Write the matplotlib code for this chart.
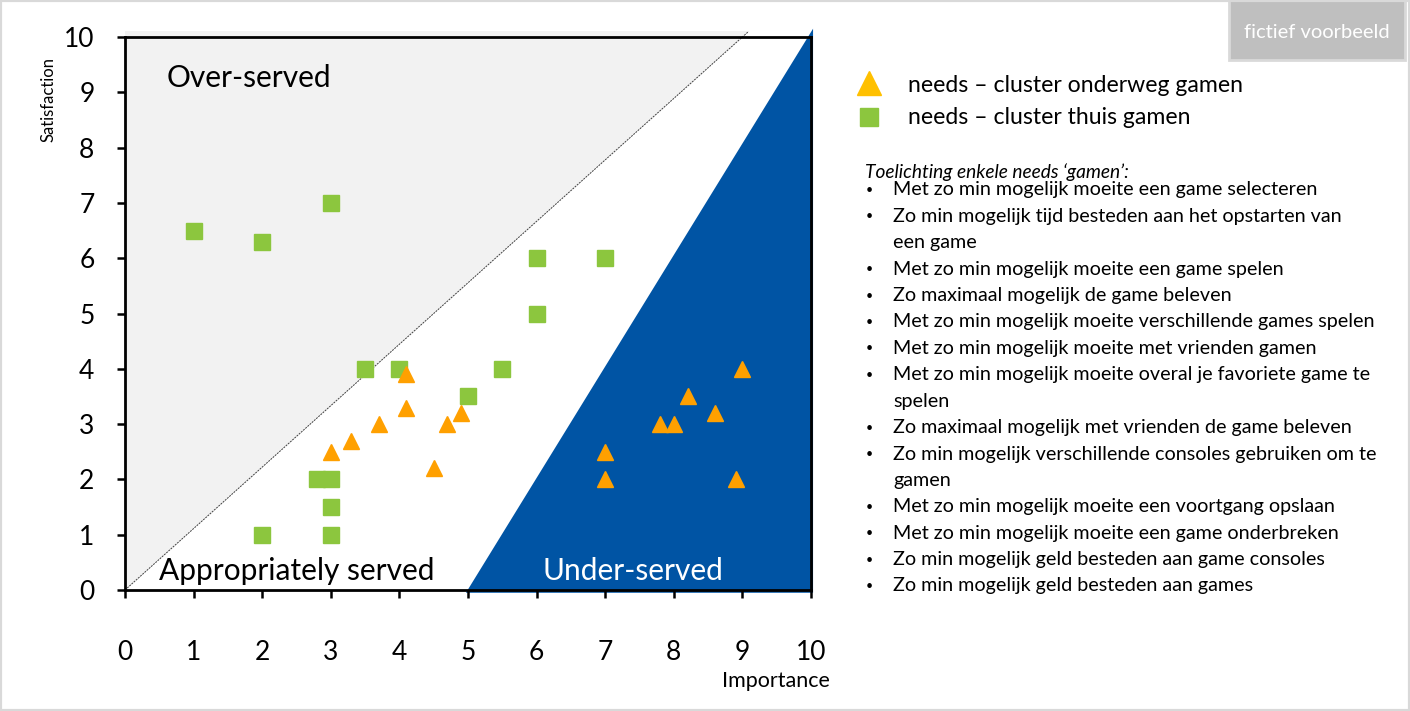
import matplotlib
matplotlib.use("Agg")
import matplotlib.pyplot as plt
from matplotlib.patches import Polygon, Rectangle
from matplotlib.lines import Line2D

plt.rcParams['font.family'] = ['Lato', 'DejaVu Sans']

# cluster "thuis gamen" (green squares)
thuis_x = [1, 2, 3, 6, 7, 6, 3.5, 4, 5.5, 5, 2.8, 3, 3, 2, 3]
thuis_y = [6.5, 6.3, 7, 6, 6, 5, 4, 4, 4, 3.5, 2, 2, 1.5, 1, 1]

# cluster "onderweg gamen" (orange triangles)
onderweg_x = [4.1, 4.1, 3.0, 3.3, 3.7, 4.5, 4.7, 4.9, 7, 7, 7.8, 8.0, 8.2, 8.6, 9.0, 8.9]
onderweg_y = [3.9, 3.3, 2.5, 2.7, 3.0, 2.2, 3.0, 3.2, 2.5, 2, 3.0, 3.0, 3.5, 3.2, 4.0, 2]

ticks = list(range(0, 11))

needs = [
    "Met zo min mogelijk moeite een game selecteren",
    "Zo min mogelijk tijd besteden aan het opstarten van\neen game",
    "Met zo min mogelijk moeite een game spelen",
    "Zo maximaal mogelijk de game beleven",
    "Met zo min mogelijk moeite verschillende games spelen",
    "Met zo min mogelijk moeite met vrienden gamen",
    "Met zo min mogelijk moeite overal je favoriete game te\nspelen",
    "Zo maximaal mogelijk met vrienden de game beleven",
    "Zo min mogelijk verschillende consoles gebruiken om te\ngamen",
    "Met zo min mogelijk moeite een voortgang opslaan",
    "Met zo min mogelijk moeite een game onderbreken",
    "Zo min mogelijk geld besteden aan game consoles",
    "Zo min mogelijk geld besteden aan games",
]

W, H = 1410, 711
fig = plt.figure(figsize=(W / 100, H / 100), dpi=100)
fig.patch.set_facecolor('white')


def fx(px):
    return px / W


def fy(py):
    return 1 - py / H


ax = fig.add_axes([fx(125), fy(590), fx(811) - fx(125), fy(37) - fy(590)])
ax.set_xlim(0, 10)
ax.set_ylim(0, 10)

# zones
ax.add_patch(Polygon([(0, 0), (0, 10.1), (9.09, 10.1)], closed=True,
                     facecolor='#F2F2F2', edgecolor='none', clip_on=False, zorder=0))
ax.plot([0, 9.09], [0, 10.1], color='#404040', lw=0.7, ls=(0, (2, 1)), clip_on=False, zorder=1)
ax.add_patch(Polygon([(4.97, -0.05), (10.03, 10.15), (10.03, -0.05)], closed=True,
                     facecolor='#0054A4', edgecolor='none', clip_on=False, zorder=1))

ax.text(0.6, 9.25, "Over-served", fontsize=21.5, color='black', va='center', ha='left')
ax.text(0.5, 0.35, "Appropriately served", fontsize=21.5, color='black', va='center', ha='left')
ax.text(7.4, 0.35, "Under-served", fontsize=21.5, color='white', va='center', ha='center')

ax.plot(thuis_x, thuis_y, ls='none', marker='s', ms=11.5, color='#8CC63E', zorder=3)
ax.plot(onderweg_x, onderweg_y, ls='none', marker='^', ms=12, color='#FFA000', zorder=4)

for s in ax.spines.values():
    s.set_linewidth(2)
    s.set_color('black')
    s.set_zorder(5)
ax.set_xticks(ticks)
ax.set_yticks(ticks)
ax.tick_params(axis='x', length=6, width=1.8, pad=30, labelsize=19)
ax.tick_params(axis='y', length=6, width=1.8, pad=16, labelsize=19)
ax.set_facecolor('white')

fig.text(fx(48), fy(100), "Satisfaction", rotation=90, fontsize=12, ha='center', va='center')
fig.text(fx(830), fy(681), "Importance", fontsize=15.5, ha='right', va='center')

# legend
fig.add_artist(Line2D([fx(869)], [fy(83)], marker='^', ms=17, color='#FFC000', ls='none'))
fig.add_artist(Line2D([fx(869)], [fy(117)], marker='s', ms=13, color='#8CC63E', ls='none'))
fig.text(fx(908), fy(85), "needs – cluster onderweg gamen", fontsize=16.6, va='center')
fig.text(fx(908), fy(118), "needs – cluster thuis gamen", fontsize=16.6, va='center')

fig.text(fx(865), fy(172), "Toelichting enkele needs ‘gamen’:", fontsize=13.8, style='italic', va='center')
line_h = 26.4
row = 0
for n in needs:
    parts = n.split("\n")
    y = 190 + row * line_h
    fig.text(fx(866), fy(y), "•", fontsize=9, va='center')
    for i, p in enumerate(parts):
        fig.text(fx(893), fy(y + i * line_h), p, fontsize=14.2, va='center')
    row += len(parts)

# badge and frame
fig.add_artist(Rectangle((fx(1229), fy(60)), fx(1405) - fx(1229), fy(0) - fy(60),
                         transform=fig.transFigure, facecolor='#BFBFBF',
                         edgecolor='#D9D9D9', lw=2))
fig.text(fx(1317), fy(32), "fictief voorbeeld", color='white', fontsize=14.5, ha='center', va='center')
fig.add_artist(Rectangle((0, 0), 1, 1, transform=fig.transFigure, facecolor='none',
                         edgecolor='#D9D9D9', lw=3))

fig.savefig("out.png", dpi=100)
